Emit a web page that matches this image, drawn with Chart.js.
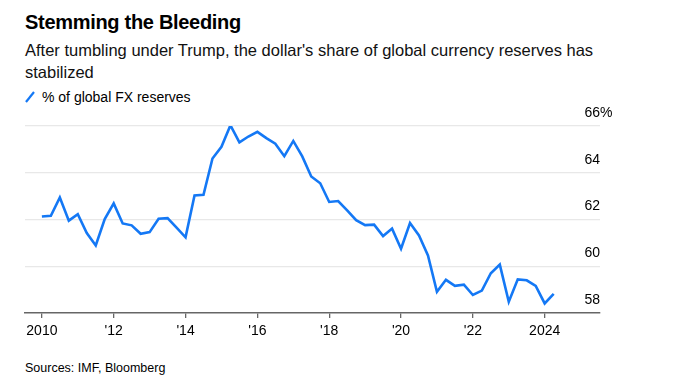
<!DOCTYPE html>
<html>
<head>
<meta charset="utf-8">
<script src="https://cdn.jsdelivr.net/npm/chart.js@4"></script>
<style>
  html, body { margin: 0; padding: 0; background: #fff; }
  body { width: 673px; height: 383px; position: relative; overflow: hidden; font-family: "Liberation Sans", Arial, sans-serif; color: #000; }
  #title { position: absolute; left: 25px; top: 10px; font-size: 20px; line-height: 24px; font-weight: bold; letter-spacing: -0.3px; }
  #subtitle { position: absolute; left: 25px; top: 39px; width: 600px; font-size: 16.5px; line-height: 22px; color: #111; }
  #legend { position: absolute; left: 25px; top: 89px; font-size: 14px; line-height: 16px; display: flex; align-items: center; }
  #legend svg { margin-right: 7px; }
  #source { position: absolute; left: 25px; top: 360px; font-size: 12.5px; line-height: 16px; }
  #wrap { position: absolute; left: 0; top: 0; width: 673px; height: 383px; }
</style>
</head>
<body>
<div id="title">Stemming the Bleeding</div>
<div id="subtitle">After tumbling under Trump, the dollar's share of global currency reserves has stabilized</div>
<div id="legend"><svg width="10" height="12"><line x1="1" y1="11" x2="9" y2="1" stroke="#1478f5" stroke-width="2.2"/></svg>% of global FX reserves</div>
<div id="source">Sources: IMF, Bloomberg</div>
<div id="wrap"><canvas id="c" width="673" height="383"></canvas></div>
<script>
// Quarters, 2010 Q1 – 2024 Q2 (x = year + (quarter-1)/4)
const quarters = [
  "2010Q1","2010Q2","2010Q3","2010Q4","2011Q1","2011Q2","2011Q3","2011Q4",
  "2012Q1","2012Q2","2012Q3","2012Q4","2013Q1","2013Q2","2013Q3","2013Q4",
  "2014Q1","2014Q2","2014Q3","2014Q4","2015Q1","2015Q2","2015Q3","2015Q4",
  "2016Q1","2016Q2","2016Q3","2016Q4","2017Q1","2017Q2","2017Q3","2017Q4",
  "2018Q1","2018Q2","2018Q3","2018Q4","2019Q1","2019Q2","2019Q3","2019Q4",
  "2020Q1","2020Q2","2020Q3","2020Q4","2021Q1","2021Q2","2021Q3","2021Q4",
  "2022Q1","2022Q2","2022Q3","2022Q4","2023Q1","2023Q2","2023Q3","2023Q4",
  "2024Q1","2024Q2"
];
const usdShare = [
  62.13, 62.16, 62.94, 61.95, 62.23, 61.42, 60.89, 62.02,
  62.69, 61.83, 61.75, 61.39, 61.46, 62.03, 62.06, 61.65,
  61.24, 63.03, 63.06, 64.61, 65.11, 66.03, 65.30, 65.55,
  65.75, 65.48, 65.24, 64.71, 65.36, 64.70, 63.84, 63.55,
  62.75, 62.79, 62.39, 61.97, 61.76, 61.78, 61.29, 61.61,
  60.75, 61.85, 61.32, 60.46, 58.91, 59.42, 59.16, 59.21,
  58.77, 58.96, 59.70, 60.07, 58.48, 59.44, 59.40, 59.16,
  58.41, 58.82
];
const xTickYears = [2010, 2012, 2014, 2016, 2018, 2020, 2022, 2024];
const xTickLabels = ["2010", "'12", "'14", "'16", "'18", "'20", "'22", "2024"];
const yTicks = [58, 60, 62, 64, 66];

const points = quarters.map((q, i) => ({
  x: parseInt(q.slice(0, 4)) + (parseInt(q.slice(5)) - 1) / 4,
  y: usdShare[i]
}));

const FONT = '"Liberation Sans", Arial, sans-serif';

const pctPlugin = {
  id: 'pct',
  afterDraw(chart) {
    const y = chart.scales.y;
    const ctx = chart.ctx;
    ctx.save();
    ctx.font = '14px ' + FONT;
    ctx.fillStyle = '#000';
    ctx.textAlign = 'left';
    ctx.textBaseline = 'middle';
    ctx.fillText('%', chart.chartArea.right, y.getPixelForValue(66) - 13);
    ctx.restore();
  }
};

new Chart(document.getElementById('c'), {
  type: 'line',
  data: {
    datasets: [{
      data: points,
      borderColor: '#1478f5',
      borderWidth: 2.6,
      pointRadius: 0,
      tension: 0,
      borderJoinStyle: 'miter'
    }]
  },
  options: {
    responsive: false,
    animation: false,
    events: [],
    layout: { padding: { left: 25, right: 73, top: 126, bottom: 38 } },
    plugins: { legend: { display: false }, tooltip: { enabled: false } },
    scales: {
      x: {
        type: 'linear',
        min: 2009.53,
        max: 2025.54,
        afterBuildTicks(scale) { scale.ticks = xTickYears.map(v => ({ value: v })); },
        afterFit(scale) { scale.paddingLeft = 0; scale.paddingRight = 0; },
        ticks: {
          autoSkip: false,
          maxRotation: 0,
          padding: 5.1,
          color: '#000',
          font: { family: FONT, size: 14 },
          callback(v) { const i = xTickYears.indexOf(v); return i >= 0 ? xTickLabels[i] : ''; }
        },
        grid: { drawOnChartArea: false, drawTicks: true, tickLength: 5, color: '#666', lineWidth: 1.3 },
        border: { display: true, color: '#666', width: 1.5 }
      },
      y: {
        position: 'right',
        min: 58,
        max: 66,
        afterBuildTicks(scale) { scale.ticks = yTicks.map(v => ({ value: v })); },
        afterFit(scale) { scale.paddingTop = 0; scale.paddingBottom = 0; },
        ticks: {
          mirror: true,
          padding: 0,
          labelOffset: -13,
          color: '#000',
          font: { family: FONT, size: 14 },
          callback(v) { return String(v); }
        },
        grid: {
          drawTicks: false,
          color: ctx => (ctx.tick && ctx.tick.value === 58) ? 'rgba(0,0,0,0)' : '#e8e8e8',
          lineWidth: 1.3
        },
        border: { display: false }
      }
    }
  },
  plugins: [pctPlugin]
});
</script>
</body>
</html>
